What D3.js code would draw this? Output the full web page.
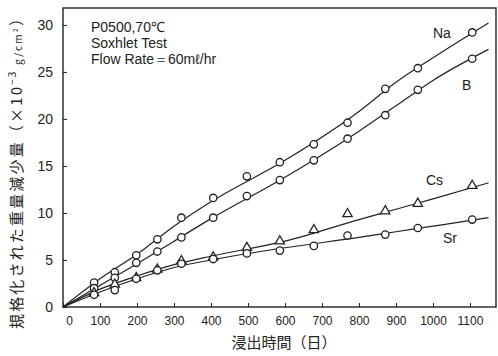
<!DOCTYPE html>
<html>
<head>
<meta charset="utf-8">
<script src="https://cdn.jsdelivr.net/npm/d3@7"></script>
<style>
  body { margin: 0; background: #fff; }
  svg { display: block; }
  text { font-family: "Liberation Sans", Arial, sans-serif; fill: #222; }
</style>
</head>
<body>
<div id="chart"></div>
<script>
// leaching time (days) for every measurement
const days = [84, 140, 198, 255, 320, 406, 497, 586, 678, 769, 871, 959, 1106];

// normalized weight loss, x10^-3 g/cm2
const naValues = [2.6, 3.7, 5.5, 7.2, 9.5, 11.6, 13.9, 15.4, 17.3, 19.6, 23.2, 25.4, 29.2];
const bValues  = [2.0, 3.1, 4.7, 5.9, 7.4, 9.5, 11.8, 13.5, 15.6, 17.9, 20.4, 23.1, 26.4];
const csValues = [1.5, 2.4, 3.1, 4.0, 4.9, 5.3, 6.3, 7.0, 8.2, 9.9, 10.2, 11.0, 12.9];
const srValues = [1.3, 1.8, 3.0, 3.9, 4.6, 5.1, 5.7, 6.0, 6.5, 7.6, 7.7, 8.4, 9.3];

// fitted curves
const fitDays = [0, 100, 200, 300, 400, 600, 800, 900, 1000, 1150];
const naFit = [0, 3.0, 5.6, 8.6, 11.2, 15.6, 20.8, 23.9, 26.5, 30.2];
const bFit  = [0, 2.3, 4.6, 7.0, 9.4, 13.8, 18.7, 21.4, 24.1, 27.4];
const csFit = [0, 1.9, 3.3, 4.5, 5.4, 7.0, 9.3, 10.4, 11.5, 13.2];
const srFit = [0, 1.6, 3.0, 4.2, 5.0, 6.3, 7.4, 8.0, 8.6, 9.5];

const xTicks = [0, 100, 200, 300, 400, 500, 600, 700, 800, 900, 1000, 1100];
const yTicks = [0, 5, 10, 15, 20, 25, 30];

const notes = ['P0500,70℃', 'Soxhlet Test', 'Flow Rate＝60mℓ/hr'];

const series = [
  { name: 'Na', values: naValues, fit: naFit, marker: 'circle', lx: 433, ly: 38 },
  { name: 'B',  values: bValues,  fit: bFit,  marker: 'circle', lx: 462, ly: 90 },
  { name: 'Cs', values: csValues, fit: csFit, marker: 'triangle', lx: 426, ly: 185 },
  { name: 'Sr', values: srValues, fit: srFit, marker: 'circle', lx: 443, ly: 243 }
];

const W = 498, H = 356;
const svg = d3.select('#chart').append('svg').attr('width', W).attr('height', H);

const mLeft = 63, mRight = 497, mTop = 8, mBottom = 307;
const x = d3.scaleLinear().domain([0, 1173]).range([mLeft, mRight]);
const y = d3.scaleLinear().domain([0, 31.8]).range([mBottom, mTop]);

// frame
svg.append('rect')
  .attr('x', mLeft).attr('y', mTop)
  .attr('width', mRight - mLeft - 1).attr('height', mBottom - mTop)
  .attr('fill', 'none').attr('stroke', '#222').attr('stroke-width', 1.4);

// x axis ticks (inward) and labels
const gx = svg.append('g').attr('transform', `translate(0,${mBottom})`)
  .call(d3.axisBottom(x).tickValues(xTicks).tickSize(-4).tickPadding(9).tickFormat(d3.format('d')));
gx.select('.domain').remove();
gx.selectAll('line').attr('stroke', '#222');
gx.selectAll('text').attr('font-size', 12).attr('fill', '#444')
  .attr('dx', d => d === 0 ? 6 : 0);

// y axis ticks (inward) and labels
const gy = svg.append('g').attr('transform', `translate(${mLeft},0)`)
  .call(d3.axisLeft(y).tickValues(yTicks).tickSize(-4).tickPadding(10));
gy.select('.domain').remove();
gy.selectAll('line').attr('stroke', '#222');
gy.selectAll('text').attr('font-size', 14).attr('fill', '#444');

// axis titles
svg.append('text')
  .attr('x', 284).attr('y', 348)
  .attr('text-anchor', 'middle')
  .attr('font-size', 15).attr('fill', '#333')
  .style('font-family', '"Noto Sans CJK JP", sans-serif')
  .text('浸出時間（日）');

const yt = svg.append('text')
  .attr('transform', 'translate(22,170) rotate(-90)')
  .attr('text-anchor', 'middle')
  .attr('font-size', 15).attr('fill', '#333')
  .style('font-family', '"Noto Sans CJK JP", sans-serif')
  .attr('textLength', 318).attr('lengthAdjust', 'spacing');
yt.append('tspan').text('規格化された重量減少量（×10');
yt.append('tspan').attr('dy', -6).attr('font-size', 10).text('−3');
yt.append('tspan').attr('dy', 6).attr('font-size', 10).text(' g/cm²');
yt.append('tspan').text('）');

// notes
svg.append('g').selectAll('text').data(notes).join('text')
  .attr('x', 91).attr('y', (d, i) => 32 + i * 16)
  .attr('font-size', 14).attr('fill', '#333')
  .text(d => d);

// fitted curves
const line = d3.line().x(d => x(d[0])).y(d => y(d[1])).curve(d3.curveMonotoneX);

series.forEach(s => {
  svg.append('path').datum(fitDays.map((d, i) => [d, s.fit[i]]))
    .attr('d', line)
    .attr('fill', 'none').attr('stroke', '#222').attr('stroke-width', 1.2);
});

// markers
series.forEach(s => {
  const g = svg.append('g');
  const data = days.map((d, i) => [d, s.values[i]]);
  if (s.marker === 'circle') {
    g.selectAll('circle').data(data).join('circle')
      .attr('cx', d => x(d[0])).attr('cy', d => y(d[1])).attr('r', 3.7)
      .attr('fill', '#fff').attr('stroke', '#222').attr('stroke-width', 1.3);
  } else {
    const tri = d3.symbol().type(d3.symbolTriangle).size(38);
    g.selectAll('path').data(data).join('path')
      .attr('d', tri)
      .attr('transform', d => `translate(${x(d[0])},${y(d[1])})`)
      .attr('fill', '#fff').attr('stroke', '#222').attr('stroke-width', 1.3);
  }
  svg.append('text').attr('x', s.lx).attr('y', s.ly)
    .attr('font-size', 14).attr('fill', '#333').text(s.name);
});
</script>
</body>
</html>
